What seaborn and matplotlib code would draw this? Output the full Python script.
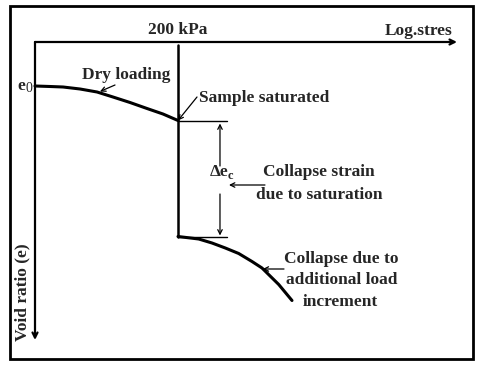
import seaborn as sns
import matplotlib.pyplot as plt
from matplotlib.patches import Rectangle

# schematic collapse test: stress in kPa (log axis), void ratio e
dry_stress = [10, 13.7, 18.0, 25.7, 36.7, 51.2, 73.2, 104.5, 146, 200]
dry_e = [0.900, 0.899, 0.898, 0.894, 0.888, 0.878, 0.867, 0.855, 0.844, 0.831]
sat_stress = 200
e_before = 0.831
e_after = 0.599
wet_stress = [200, 308.6, 407.7, 538.8, 713.4, 942.6, 1162, 1650, 2179]
wet_e = [0.599, 0.594, 0.586, 0.576, 0.565, 0.549, 0.536, 0.503, 0.471]

W, H = 480, 367
FONT = ['Liberation Serif', 'DejaVu Serif']


def fxy(x, y):
    # pixel position (from top-left) -> figure fraction
    return (x / W, 1 - y / H)


def label(fig, x, y, s, size=12.5, **kw):
    fig.text(*fxy(x, y), s, ha=kw.pop('ha', 'center'), va=kw.pop('va', 'center'),
             fontsize=size, fontweight=kw.pop('weight', 'bold'), family=FONT, **kw)


def main():
    sns.set_style("white")
    plt.rcParams['font.family'] = FONT

    fig = plt.figure(figsize=(4.8, 3.67), dpi=100)
    fig.patches.append(Rectangle(fxy(10, 359), 463 / W, 353 / H, transform=fig.transFigure,
                                 fill=False, edgecolor='black', linewidth=2.0))

    ax = fig.add_axes([35 / W, 1 - 340 / H, 422 / W, 298 / H])
    ax.set_xscale('log')
    ax.set_xlim(10, 10 ** (1 + 422 / 109.91))
    ax.set_ylim(0.392, 0.988)
    ax.set_xticks([])
    ax.set_yticks([])
    ax.minorticks_off()
    for s in ax.spines.values():
        s.set_visible(False)
    ax.patch.set_alpha(0)

    # axes as arrows
    ap = dict(arrowstyle='->', lw=1.6, color='black', shrinkA=0, shrinkB=0, mutation_scale=9)
    ax.annotate('', xy=(1, 1), xytext=(0, 1), xycoords='axes fraction', arrowprops=ap)
    ax.annotate('', xy=(0, 0), xytext=(0, 1), xycoords='axes fraction', arrowprops=ap)

    # curves
    line_kw = dict(color='black', linewidth=2.2, clip_on=False,
                   solid_joinstyle='round', solid_capstyle='round')
    sns.lineplot(x=dry_stress, y=dry_e, ax=ax, **line_kw)
    sns.lineplot(x=wet_stress, y=wet_e, ax=ax, **line_kw)
    ax.plot([sat_stress, sat_stress], [0.982, e_after], color='black', linewidth=1.8)

    # Δe_c bracket
    ax.plot([sat_stress, 559], [e_before, e_before], color='black', linewidth=1.0)
    ax.plot([sat_stress, 559], [e_after, e_after], color='black', linewidth=1.0)
    thin = dict(arrowstyle='->', lw=0.9, color='black', shrinkA=0, shrinkB=0, mutation_scale=8)
    ax.annotate('', xy=(482, e_before - 0.006), xytext=(482, 0.740), arrowprops=thin)
    ax.annotate('', xy=(482, e_after + 0.002), xytext=(482, 0.684), arrowprops=thin)
    ax.annotate('', xy=(582, 0.702), xytext=(1237, 0.702), arrowprops=thin)

    # pointers to the curve
    ax.annotate('', xy=(39, 0.889), xytext=fxy(115, 85), textcoords='figure fraction', arrowprops=thin)
    ax.annotate('', xy=(sat_stress, e_before), xytext=fxy(197, 97), textcoords='figure fraction',
                arrowprops=thin)
    ax.annotate('', xy=(1180, 0.534), xytext=fxy(284, 269), textcoords='figure fraction',
                arrowprops=thin)

    # texts
    label(fig, 178, 30, '200 kPa')
    label(fig, 452, 31, 'Log.stres', ha='right')
    label(fig, 21, 86, 'e')
    label(fig, 29, 88, '0', size=10, weight='normal')
    label(fig, 126, 75, 'Dry loading')
    label(fig, 199, 98, 'Sample saturated', ha='left')
    label(fig, 228, 172, 'Δe', ha='right')
    label(fig, 228, 176, 'c', size=9, ha='left')
    label(fig, 319, 172, 'Collapse strain')
    label(fig, 319, 195, 'due to saturation')
    label(fig, 341, 259, 'Collapse due to')
    label(fig, 342, 280, 'additional load')
    label(fig, 340, 302, 'increment')
    label(fig, 22, 292, 'Void ratio (e)', rotation=90)

    fig.savefig('out.png', dpi=100)


if __name__ == "__main__":
    main()
